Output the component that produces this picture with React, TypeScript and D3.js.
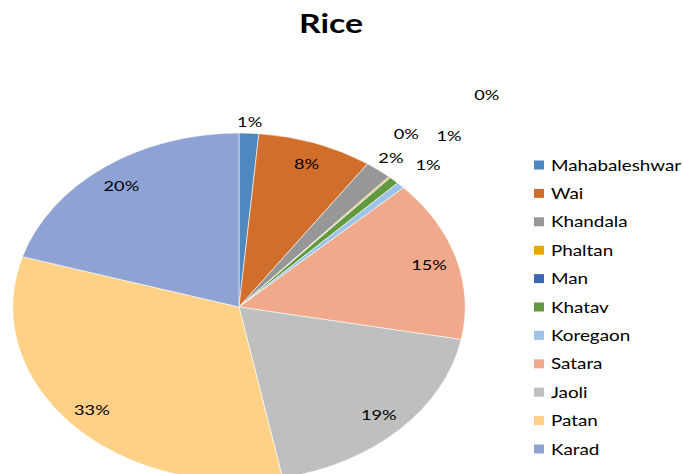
import { useEffect, useRef } from "react"
import * as d3 from "d3"

// Rice production share by taluka (percent)
const talukas = [
  "Mahabaleshwar",
  "Wai",
  "Khandala",
  "Phaltan",
  "Man",
  "Khatav",
  "Koregaon",
  "Satara",
  "Jaoli",
  "Patan",
  "Karad",
]
const shares = [1.4, 8.2, 1.9, 0.1, 0.05, 0.7, 0.6, 15, 18.9, 32.7, 20.3]
const colors = [
  "#4E88BE",
  "#D26E2B",
  "#979797",
  "#E6A800",
  "#3D66B0",
  "#62993E",
  "#9DC3E6",
  "#F0A98A",
  "#BFBFBF",
  "#FFD187",
  "#8EA3D4",
]
// label placement: radius factor and angular nudge (degrees) per slice
const labelRadius = [1.07, 0.88, 1.09, 1.24, 1.64, 1.355, 1.17, 0.875, 0.872, 0.877, 0.872]
const labelNudge = [0, 0, 0, -5, 0, 0, 0, 0, 0, 0, 0]

const W = 683
const H = 474

export default function App() {
  const svgRef = useRef<SVGSVGElement>(null)

  useEffect(() => {
    if (!svgRef.current) return
    const svg = d3.select(svgRef.current)
    svg.selectAll("*").remove()

    const sx = 1.3 // the whole chart is stretched horizontally
    const font = "Lato, 'Open Sans', sans-serif"
    const g = svg.append("g").attr("transform", `scale(${sx},1)`)

    // title
    g.append("text")
      .attr("x", 331 / sx)
      .attr("y", 33)
      .attr("text-anchor", "middle")
      .attr("font-family", font)
      .attr("font-weight", 700)
      .attr("font-size", 26)
      .attr("fill", "#000")
      .text("Rice")

    const cx = 239 / sx
    const cy = 307
    const r = 174

    const data = talukas.map((name, i) => ({ name, value: shares[i], i }))
    const total = d3.sum(shares)
    const pie = d3.pie<(typeof data)[0]>().value((d) => d.value).sort(null)
    const arcs = pie(data)
    const arc = d3.arc<d3.PieArcDatum<(typeof data)[0]>>().innerRadius(0).outerRadius(r)

    const pg = g.append("g").attr("transform", `translate(${cx},${cy})`)
    pg.selectAll("path")
      .data(arcs)
      .enter()
      .append("path")
      .attr("d", arc)
      .attr("fill", (d) => colors[d.data.i])
      .attr("stroke", "#fff")
      .attr("stroke-width", 0.5)

    const fmt = d3.format(".0%")
    const labelPos = (d: d3.PieArcDatum<(typeof data)[0]>) => {
      const a = (d.startAngle + d.endAngle) / 2 + (labelNudge[d.data.i] * Math.PI) / 180
      const k = r * labelRadius[d.data.i]
      return [Math.sin(a) * k, -Math.cos(a) * k]
    }
    pg.selectAll("text")
      .data(arcs)
      .enter()
      .append("text")
      .attr("x", (d) => labelPos(d)[0])
      .attr("y", (d) => labelPos(d)[1])
      .attr("text-anchor", "middle")
      .attr("dominant-baseline", "central")
      .attr("font-family", font)
      .attr("font-size", 14)
      .attr("fill", "#000")
      .text((d) => fmt(d.data.value / total))

    // legend
    const ly = d3.scalePoint<string>().domain(talukas).range([165, 449])
    const lg = g.append("g")
    talukas.forEach((name, i) => {
      const y = ly(name) ?? 0
      lg.append("rect")
        .attr("x", 534 / sx)
        .attr("y", y - 4.5)
        .attr("width", 10 / sx)
        .attr("height", 9)
        .attr("fill", colors[i])
      lg.append("text")
        .attr("x", 551 / sx)
        .attr("y", y)
        .attr("dominant-baseline", "central")
        .attr("font-family", font)
        .attr("font-size", 14.5)
        .attr("fill", "#000")
        .text(name)
    })
  }, [])

  return (
    <div style={{ position: "absolute", left: 0, top: 0, width: W, height: H, overflow: "hidden" }}>
      <svg ref={svgRef} width={W} height={H} style={{ display: "block", background: "#fff" }} />
    </div>
  )
}
